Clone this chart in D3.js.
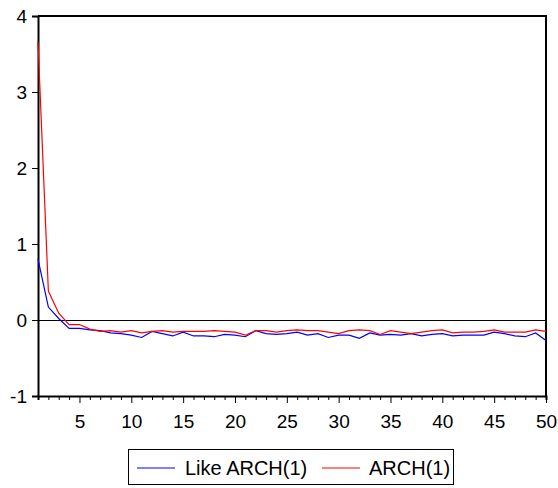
<!DOCTYPE html>
<html>
<head>
<meta charset="utf-8">
<script src="https://cdn.jsdelivr.net/npm/d3@7/dist/d3.min.js"></script>
<style>
  html, body { margin: 0; padding: 0; background: #fff; }
  svg { display: block; font-family: "Liberation Sans", Arial, sans-serif; }
</style>
</head>
<body>
<svg id="chart" width="558" height="488"></svg>
<script>
// Lag index 1..50
const lags = d3.range(1, 51);

// Series values by lag
const likeArch = [
  0.80, 0.17, 0.02, -0.11, -0.11, -0.13, -0.14, -0.17, -0.18, -0.20,
  -0.23, -0.15, -0.18, -0.21, -0.16, -0.21, -0.21, -0.22, -0.19, -0.20,
  -0.22, -0.14, -0.18, -0.19, -0.18, -0.16, -0.20, -0.18, -0.23, -0.20,
  -0.20, -0.24, -0.17, -0.20, -0.19, -0.20, -0.18, -0.21, -0.19, -0.18,
  -0.21, -0.20, -0.20, -0.20, -0.16, -0.18, -0.21, -0.22, -0.17, -0.27
];
const arch = [
  3.66, 0.38, 0.09, -0.06, -0.06, -0.12, -0.15, -0.14, -0.16, -0.14,
  -0.17, -0.15, -0.14, -0.16, -0.15, -0.15, -0.15, -0.14, -0.15, -0.16,
  -0.20, -0.14, -0.14, -0.16, -0.14, -0.13, -0.14, -0.14, -0.16, -0.18,
  -0.14, -0.13, -0.14, -0.19, -0.14, -0.16, -0.18, -0.16, -0.14, -0.13,
  -0.17, -0.16, -0.16, -0.15, -0.13, -0.16, -0.16, -0.16, -0.13, -0.15
];

// Axis ticks
const yTicks = [-1, 0, 1, 2, 3, 4];
const xTicks = [5, 10, 15, 20, 25, 30, 35, 40, 45, 50];

const seriesNames = ["Like ARCH(1)", "ARCH(1)"];
const seriesColors = ["#0000ff", "#ff0000"];

const FONT = "'Liberation Sans', Arial, sans-serif";
const svg = d3.select("#chart");
const plot = { left: 38, right: 546, top: 16, bottom: 396 };

const x = d3.scaleLinear().domain([1, 50]).range([plot.left, plot.right]);
const y = d3.scaleLinear().domain([-1, 4]).range([plot.bottom, plot.top]);

// Plain hyphen for negative tick labels
const intFmt = d => String(d);

// Frame: top and right borders
svg.append("path")
  .attr("d", `M${plot.left},${plot.top}H${plot.right}V${plot.bottom}`)
  .attr("fill", "none").attr("stroke", "#000").attr("stroke-width", 2);

// Zero reference line
svg.append("line")
  .attr("x1", plot.left).attr("x2", plot.right)
  .attr("y1", Math.round(y(0)) + 0.5).attr("y2", Math.round(y(0)) + 0.5)
  .attr("stroke", "#000").attr("stroke-width", 1);

// Y axis
const yAxis = svg.append("g")
  .attr("transform", `translate(${plot.left},0)`)
  .call(d3.axisLeft(y).tickValues(yTicks).tickSize(6).tickPadding(5).tickFormat(intFmt));
yAxis.select(".domain").attr("stroke-width", 2);
yAxis.selectAll("text").attr("font-size", 19).attr("fill", "#000").style("font-family", FONT);

// X axis: minor ticks for every lag, labelled major ticks
const xMinor = svg.append("g")
  .attr("transform", `translate(0,${plot.bottom})`)
  .call(d3.axisBottom(x).tickValues(lags.filter(d => d % 5 !== 0)).tickSize(4).tickFormat(""));
xMinor.select(".domain").attr("stroke-width", 2);

const xAxis = svg.append("g")
  .attr("transform", `translate(0,${plot.bottom})`)
  .call(d3.axisBottom(x).tickValues(xTicks).tickSize(7).tickPadding(12).tickFormat(intFmt));
xAxis.select(".domain").remove();
xAxis.selectAll("text").attr("font-size", 19).attr("fill", "#000").style("font-family", FONT);

// Series lines
const line = d3.line().x((d, i) => x(lags[i])).y(d => y(d));
[likeArch, arch].forEach((vals, k) => {
  svg.append("path")
    .datum(vals)
    .attr("d", line)
    .attr("fill", "none")
    .attr("stroke", seriesColors[k])
    .attr("stroke-width", 1.2);
});

// Legend
const lg = svg.append("g");
lg.append("rect")
  .attr("x", 128.5).attr("y", 449.5).attr("width", 325).attr("height", 35)
  .attr("fill", "#fff").attr("stroke", "#000").attr("stroke-width", 1);
const legendItems = [
  { x0: 137, x1: 175, tx: 185 },
  { x0: 322, x1: 360, tx: 369 }
];
legendItems.forEach((it, k) => {
  lg.append("line")
    .attr("x1", it.x0).attr("x2", it.x1).attr("y1", 468).attr("y2", 468)
    .attr("stroke", seriesColors[k]).attr("stroke-width", 1.2);
  lg.append("text")
    .attr("x", it.tx).attr("y", 475)
    .attr("font-size", 20).attr("fill", "#000").style("font-family", FONT)
    .text(seriesNames[k]);
});
</script>
</body>
</html>
